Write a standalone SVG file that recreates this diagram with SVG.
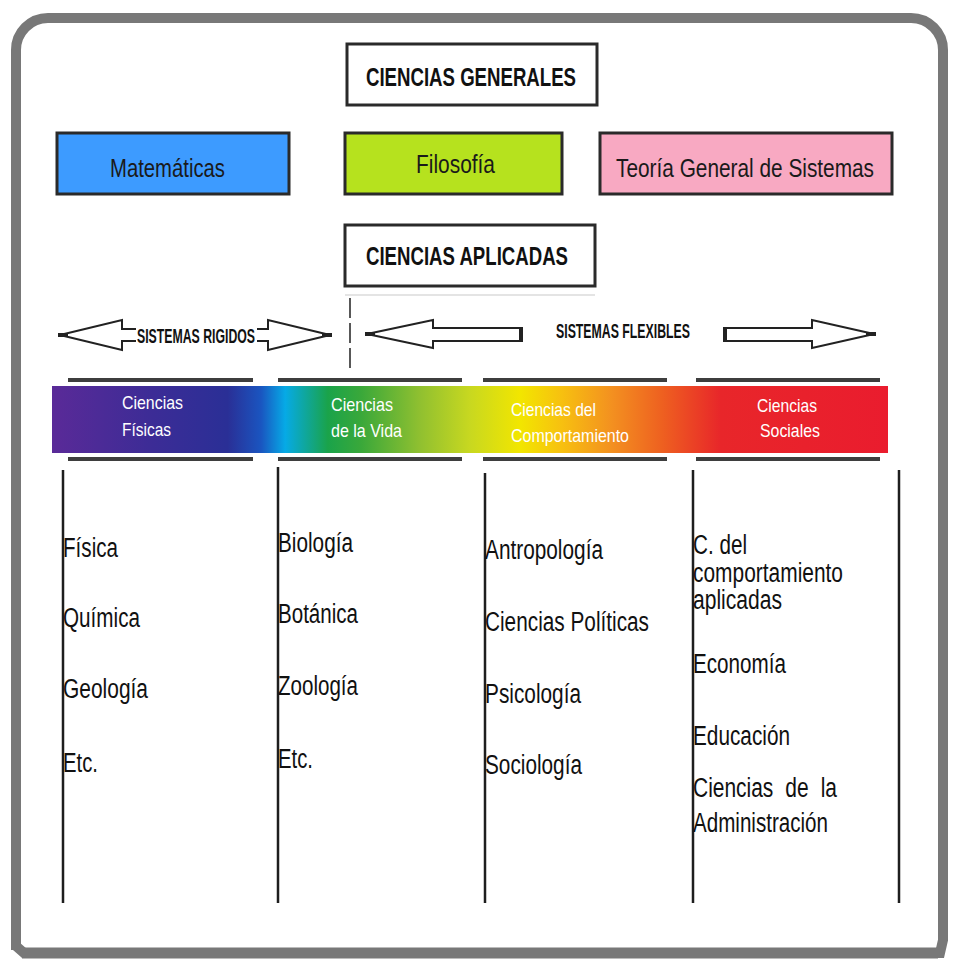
<svg xmlns="http://www.w3.org/2000/svg" width="960" height="966" viewBox="0 0 960 966">
<defs>
<linearGradient id="spec" x1="52" y1="0" x2="888" y2="0" gradientUnits="userSpaceOnUse">
<stop offset="0" stop-color="#5a2a98"/>
<stop offset="0.12" stop-color="#3c2c96"/>
<stop offset="0.21" stop-color="#2a2f96"/>
<stop offset="0.25" stop-color="#1a55c0"/>
<stop offset="0.279" stop-color="#06aae6"/>
<stop offset="0.33" stop-color="#1aa34a"/>
<stop offset="0.37" stop-color="#3aa83a"/>
<stop offset="0.44" stop-color="#90c030"/>
<stop offset="0.5" stop-color="#c8d820"/>
<stop offset="0.56" stop-color="#f2e600"/>
<stop offset="0.61" stop-color="#f7c010"/>
<stop offset="0.67" stop-color="#f39020"/>
<stop offset="0.73" stop-color="#ee6020"/>
<stop offset="0.8" stop-color="#e8262a"/>
<stop offset="1" stop-color="#ea1c2e"/>
</linearGradient>
<style>
.frame{fill:none;stroke:#787878;stroke-width:10}
.box{stroke:#2a2a2a;stroke-width:3}
.bt{font-family:"Liberation Sans",Arial,sans-serif;font-size:26px;fill:#1a1a1a}
.hd{font-family:"Liberation Sans",Arial,sans-serif;font-size:25px;font-weight:bold;fill:#111}
.sm{font-family:"Liberation Sans",Arial,sans-serif;font-size:20px;font-weight:bold;fill:#111}
.bar{font-family:"Liberation Sans",Arial,sans-serif;font-size:19px;fill:#fff}
.body{font-family:"Liberation Sans",Arial,sans-serif;font-size:27px;fill:#111}
.rule{stroke:#3e3e3e;stroke-width:4}
.col{stroke:#1e1e1e;stroke-width:2.5}
.arr{fill:#fff;stroke:#222;stroke-width:2}
</style>
</defs>
<rect width="960" height="966" fill="#fff"/>
<path class="frame" d="M16 950 L16 50 A32 32 0 0 1 48 18 L911 18 A32 32 0 0 1 943 50 L943 940 L940 953 L24 953 L16 946"/>
<line x1="22" y1="953" x2="938" y2="953" stroke="#787878" stroke-width="11"/>

<g id="ciencias-generales">
<rect class="box" x="347" y="44" width="250" height="61" fill="#fff"/>
<text class="hd" x="366" y="86" textLength="210" lengthAdjust="spacingAndGlyphs">CIENCIAS GENERALES</text>
</g>
<g id="matematicas">
<rect class="box" x="57" y="133" width="232" height="61" fill="#3d9bff"/>
<text class="bt" x="110" y="177" textLength="115" lengthAdjust="spacingAndGlyphs">Matemáticas</text>
</g>
<g id="filosofia">
<rect class="box" x="345" y="133" width="217" height="61" fill="#b6e21e"/>
<text class="bt" x="416" y="173" textLength="79" lengthAdjust="spacingAndGlyphs">Filosofía</text>
</g>
<g id="tgs">
<rect class="box" x="600" y="133" width="292" height="61" fill="#f8a9c2" stroke-width="4"/>
<text class="bt" x="616" y="177" textLength="258" lengthAdjust="spacingAndGlyphs">Teoría General de Sistemas</text>
</g>
<g id="ciencias-aplicadas">
<rect class="box" x="345" y="225" width="250" height="61" fill="#fff"/>
<text class="hd" x="366" y="265" textLength="202" lengthAdjust="spacingAndGlyphs">CIENCIAS APLICADAS</text>
<line x1="345" y1="295" x2="595" y2="295" stroke="#e4e4e4" stroke-width="2"/>
</g>

<g id="connectors">
<line x1="350" y1="298" x2="350" y2="372" stroke="#222" stroke-width="1.5" stroke-dasharray="20,5"/>
<polygon class="arr" points="60,335 122,320 122,329 268,329 268,320 330,335 268,350 268,341 122,341 122,350"/>
<line x1="58" y1="335" x2="68" y2="335" stroke="#222" stroke-width="4"/>
<line x1="322" y1="335" x2="332" y2="335" stroke="#222" stroke-width="4"/>
<polygon class="arr" points="367,334 433,320 433,328 522,328 522,341 433,341 433,348"/>
<line x1="521" y1="328" x2="521" y2="341" stroke="#222" stroke-width="4"/>
<line x1="365" y1="334" x2="375" y2="334" stroke="#222" stroke-width="4"/>
<polygon class="arr" points="874,334 812,320 812,328 724,328 724,341 812,341 812,348"/>
<line x1="725" y1="328" x2="725" y2="341" stroke="#222" stroke-width="4"/>
<line x1="866" y1="334" x2="876" y2="334" stroke="#222" stroke-width="4"/>
</g>

<g id="sistemas-rigidos">
<rect x="136" y="327" width="121" height="16" fill="#fff"/>
<text class="sm" x="137" y="343" textLength="118" lengthAdjust="spacingAndGlyphs">SISTEMAS RIGIDOS</text>
</g>
<g id="sistemas-flexibles">
<text class="sm" x="556" y="338" textLength="134" lengthAdjust="spacingAndGlyphs">SISTEMAS FLEXIBLES</text>
</g>

<g id="espectro">
<line class="rule" x1="68" y1="380" x2="253" y2="380"/>
<line class="rule" x1="278" y1="380" x2="462" y2="380"/>
<line class="rule" x1="483" y1="380" x2="667" y2="380"/>
<line class="rule" x1="696" y1="380" x2="880" y2="380"/>
<rect x="52" y="386" width="836" height="67" fill="url(#spec)"/>
<line class="rule" x1="68" y1="459" x2="253" y2="459"/>
<line class="rule" x1="278" y1="459" x2="462" y2="459"/>
<line class="rule" x1="483" y1="459" x2="667" y2="459"/>
<line class="rule" x1="696" y1="459" x2="880" y2="459"/>
</g>

<g id="fisicas">
<text class="bar" x="122" y="409" textLength="61" lengthAdjust="spacingAndGlyphs">Ciencias</text>
<text class="bar" x="122" y="436" textLength="49" lengthAdjust="spacingAndGlyphs">Físicas</text>
<line class="col" x1="63" y1="470" x2="63" y2="903"/>
<text class="body" x="63" y="557" textLength="55" lengthAdjust="spacingAndGlyphs">Física</text>
<text class="body" x="63" y="627" textLength="77" lengthAdjust="spacingAndGlyphs">Química</text>
<text class="body" x="63" y="698" textLength="85" lengthAdjust="spacingAndGlyphs">Geología</text>
<text class="body" x="63" y="772" textLength="35" lengthAdjust="spacingAndGlyphs">Etc.</text>
</g>
<g id="vida">
<text class="bar" x="331" y="411" textLength="62" lengthAdjust="spacingAndGlyphs">Ciencias</text>
<text class="bar" x="331" y="437" textLength="71" lengthAdjust="spacingAndGlyphs">de la Vida</text>
<line class="col" x1="278" y1="467" x2="278" y2="903"/>
<text class="body" x="278" y="552" textLength="75" lengthAdjust="spacingAndGlyphs">Biología</text>
<text class="body" x="278" y="623" textLength="80" lengthAdjust="spacingAndGlyphs">Botánica</text>
<text class="body" x="278" y="695" textLength="80" lengthAdjust="spacingAndGlyphs">Zoología</text>
<text class="body" x="278" y="768" textLength="35" lengthAdjust="spacingAndGlyphs">Etc.</text>
</g>
<g id="comportamiento">
<text class="bar" x="511" y="416" textLength="85" lengthAdjust="spacingAndGlyphs" fill="#fff8c8">Ciencias del</text>
<text class="bar" x="511" y="442" textLength="118" lengthAdjust="spacingAndGlyphs" fill="#fff8c8">Comportamiento</text>
<line class="col" x1="485" y1="473" x2="485" y2="903"/>
<text class="body" x="485" y="559" textLength="118" lengthAdjust="spacingAndGlyphs">Antropología</text>
<text class="body" x="485" y="631" textLength="164" lengthAdjust="spacingAndGlyphs">Ciencias Políticas</text>
<text class="body" x="485" y="703" textLength="96" lengthAdjust="spacingAndGlyphs">Psicología</text>
<text class="body" x="485" y="774" textLength="97" lengthAdjust="spacingAndGlyphs">Sociología</text>
</g>
<g id="sociales">
<text class="bar" x="757" y="412" textLength="60" lengthAdjust="spacingAndGlyphs">Ciencias</text>
<text class="bar" x="760" y="437" textLength="60" lengthAdjust="spacingAndGlyphs">Sociales</text>
<line class="col" x1="693" y1="470" x2="693" y2="903"/>
<text class="body" x="693" y="554" textLength="54" lengthAdjust="spacingAndGlyphs" font-size="25">C. del</text>
<text class="body" x="693" y="582" textLength="150" lengthAdjust="spacingAndGlyphs" font-size="25">comportamiento</text>
<text class="body" x="693" y="609" textLength="89" lengthAdjust="spacingAndGlyphs" font-size="25">aplicadas</text>
<text class="body" x="693" y="673" textLength="93" lengthAdjust="spacingAndGlyphs">Economía</text>
<text class="body" x="693" y="745" textLength="97" lengthAdjust="spacingAndGlyphs">Educación</text>
<text class="body" x="693" y="797" textLength="144" lengthAdjust="spacingAndGlyphs" word-spacing="8">Ciencias de la</text>
<text class="body" x="693" y="832" textLength="135" lengthAdjust="spacingAndGlyphs">Administración</text>
<line class="col" x1="899" y1="470" x2="899" y2="903"/>
</g>
</svg>
